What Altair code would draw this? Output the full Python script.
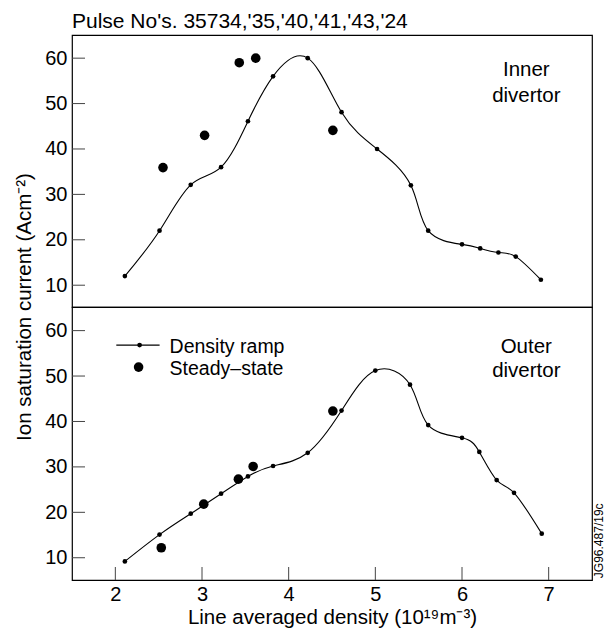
import altair as alt
import pandas as pd

# ---------------- data ----------------
inner_ramp_x = [2.11, 2.51, 2.87, 3.22, 3.53, 3.82, 4.22, 4.61, 5.02, 5.41, 5.61, 6.00, 6.21, 6.42, 6.62, 6.91]
inner_ramp_y = [12.0, 22.0, 32.1, 36.0, 46.1, 56.0, 60.0, 48.1, 40.0, 32.0, 22.0, 19.0, 18.1, 17.2, 16.3, 11.2]
inner_ss_x = [2.55, 3.03, 3.43, 3.62, 4.51]
inner_ss_y = [35.9, 43.0, 59.0, 60.0, 44.1]

outer_ramp_x = [2.11, 2.51, 2.87, 3.22, 3.53, 3.82, 4.22, 4.61, 5.00, 5.40, 5.61, 6.00, 6.20, 6.40, 6.60, 6.92]
outer_ramp_y = [9.2, 15.1, 19.7, 24.1, 27.9, 30.2, 33.1, 42.4, 51.2, 48.1, 39.2, 36.4, 33.3, 27.1, 24.3, 15.3]
outer_ss_x = [2.53, 3.02, 3.42, 3.59, 4.51]
outer_ss_y = [12.2, 21.8, 27.3, 30.1, 42.3]

x_ticks = [2, 3, 4, 5, 6, 7]
y_ticks = [10, 20, 30, 40, 50, 60]

title_text = "Pulse No's. 35734,'35,'40,'41,'43,'24"
x_title = "Line averaged density (10\u00b9\u2079m\u207b\u00b3)"
y_title = "Ion saturation current (Acm\u207b\u00b2)"
legend_labels = ["Density ramp", "Steady\u2013state"]
code_text = "JG96.487/19c"

# ---------------- layout ----------------
FONT = "Liberation Sans"
W = 520
H_TOP = 272
H_BOT = 273
TICK = 13
FS = 20.5
LFS = 20

xscale = alt.Scale(domain=[1.5, 7.5], nice=False, zero=False)


def txt(text, x, y, size=FS, align="left", baseline="alphabetic", angle=0):
    kw = dict(text=text, font=FONT, fontSize=size, align=align,
              baseline=baseline, color="black")
    if angle:
        kw["angle"] = angle
    return alt.Chart(pd.DataFrame({"d": [0]})).mark_text(**kw).encode(
        x=alt.value(x), y=alt.value(y))


def panel(rx, ry, sx, sy, ydom, height, bottom):
    ramp = pd.DataFrame({"x": rx, "y": ry})
    ss = pd.DataFrame({"x": sx, "y": sy})
    yscale = alt.Scale(domain=ydom, nice=False, zero=False)
    yaxis = alt.Axis(values=y_ticks, ticks=False, domain=False, grid=False,
                     labelFont=FONT, labelFontSize=LFS, labelPadding=5,
                     labelColor="black", title=None)
    if bottom:
        xaxis = alt.Axis(values=x_ticks, ticks=False, domain=False, grid=False,
                         labelFont=FONT, labelFontSize=LFS, labelPadding=4,
                         labelColor="black", title=x_title, titleFont=FONT,
                         titleFontSize=20.5, titleFontWeight="normal",
                         titleColor="black", titleY=43,
                         titleBaseline="alphabetic")
    else:
        xaxis = None
    X = alt.X("x:Q", scale=xscale, axis=xaxis)
    Y = alt.Y("y:Q", scale=yscale, axis=yaxis)

    line = alt.Chart(ramp).mark_line(
        interpolate="natural", color="black", strokeWidth=1.1
    ).encode(x=X, y=Y)
    dots = alt.Chart(ramp).mark_circle(size=22, color="black", opacity=1).encode(x=X, y=Y)
    big = alt.Chart(ss).mark_circle(size=92, color="black", opacity=1).encode(x=X, y=Y)
    yt = alt.Chart(pd.DataFrame({"y": y_ticks})).mark_rule(
        color="#444", strokeWidth=1).encode(y=Y, x=alt.value(0), x2=alt.value(TICK))
    layers = [yt, line, dots, big]
    if bottom:
        xt = alt.Chart(pd.DataFrame({"x": x_ticks})).mark_rule(
            color="#444", strokeWidth=1).encode(
            x=X, y=alt.value(height), y2=alt.value(height - TICK))
        layers.append(xt)
    return layers


top_layers = panel(inner_ramp_x, inner_ramp_y, inner_ss_x, inner_ss_y,
                   [5.2, 65.1], H_TOP, False)
top_layers += [
    txt(title_text, 0, -6.6, size=21),
    txt("Inner", 454.3, 40.7, align="center"),
    txt("divertor", 454.3, 66.7, align="center"),
    txt(y_title, -46.7, H_TOP, align="center", baseline="middle", angle=270),
]
top = alt.layer(*top_layers).properties(width=W, height=H_TOP)

bot_layers = panel(outer_ramp_x, outer_ramp_y, outer_ss_x, outer_ss_y,
                   [5.1, 65.2], H_BOT, True)
leg_line = alt.Chart(pd.DataFrame({"d": [0]})).mark_rule(
    color="black", strokeWidth=1.1).encode(
    x=alt.value(44.3), x2=alt.value(87.6), y=alt.value(38.1))
leg_small = alt.Chart(pd.DataFrame({"d": [0]})).mark_circle(
    size=22, color="black", opacity=1).encode(x=alt.value(67.6), y=alt.value(38.1))
leg_big = alt.Chart(pd.DataFrame({"d": [0]})).mark_circle(
    size=92, color="black", opacity=1).encode(x=alt.value(66.6), y=alt.value(60.1))
bot_layers += [
    leg_line, leg_small, leg_big,
    txt(legend_labels[0], 97.6, 45.5, size=19.5),
    txt(legend_labels[1], 97.6, 67.5, size=19.5),
    txt("Outer", 454.3, 46, align="center"),
    txt("divertor", 454.3, 70.3, align="center"),
    txt(code_text, 526.8, 233.8, size=12, align="center", baseline="middle", angle=270),
]
bottom = alt.layer(*bot_layers).properties(width=W, height=H_BOT)

chart = alt.vconcat(top, bottom, spacing=0, bounds="flush").properties(
    padding={"left": 14, "top": 10, "right": 0, "bottom": 0}
).configure(font=FONT, background="white").configure_view(
    stroke="black", strokeWidth=1.2)

chart.save("out.html", embed_options={"renderer": "svg", "actions": False})
